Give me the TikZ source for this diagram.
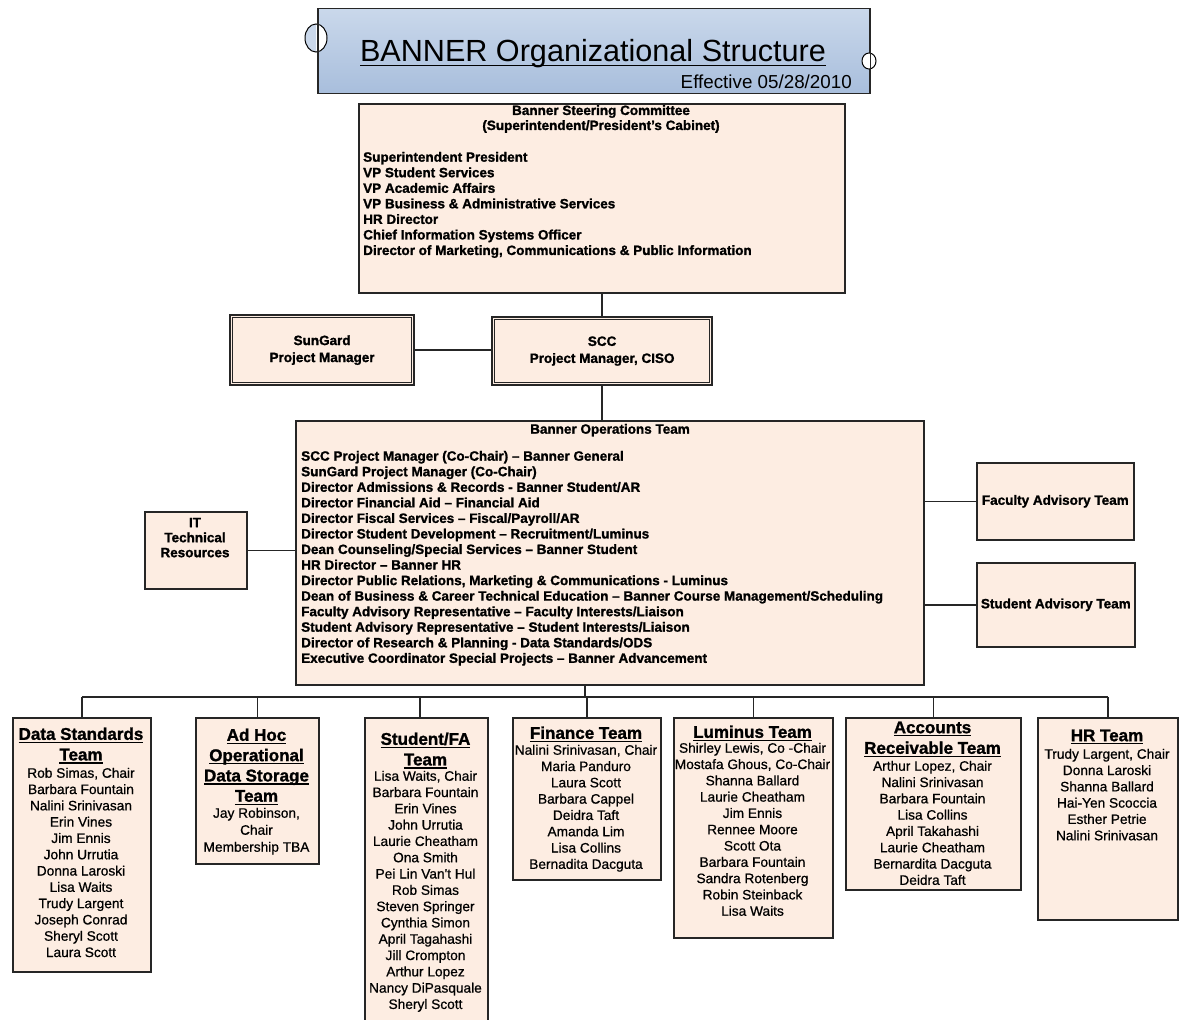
\documentclass[tikz,border=0pt]{standalone}
\usepackage{fontspec}
\setmainfont{Liberation Sans}
\newfontfamily\heavyfont[BoldFeatures={FakeBold=1.3}]{Liberation Sans}
\newfontfamily\memfont[UprightFeatures={FakeBold=0.7}]{Liberation Sans}
\usetikzlibrary{calc}
\definecolor{peach}{RGB}{253,237,226}
\definecolor{tblueA}{RGB}{202,216,235}
\definecolor{tblueB}{RGB}{168,190,220}
\newsavebox\ulbox
\newcommand\ulx[2][3.2pt]{\sbox\ulbox{#2}\rlap{\rule[-#1]{\wd\ulbox}{1.4pt}}\usebox\ulbox}
\newcommand\fhd{\heavyfont\bfseries\fontsize{13.5}{15.55}\selectfont}
\newcommand\fhdb{\heavyfont\bfseries\fontsize{13.5}{15}\selectfont}
\newcommand\fhdc{\heavyfont\bfseries\fontsize{13.5}{17}\selectfont}
\newcommand\fmem{\memfont\fontsize{13.7}{16.3}\selectfont}
\newcommand\fteam{\heavyfont\bfseries\fontsize{17}{20.6}\selectfont}
\begin{document}
\begin{tikzpicture}[x=1pt,y=-1pt,
  box/.style={draw=black!85, line width=1.6pt, fill=peach, rectangle, inner sep=0pt, anchor=north west},
  dbox/.style={box, line width=2.2pt},
  inner/.style={draw=black!85, line width=0.8pt},
  conn/.style={draw=black!85, line width=1.4pt},
  lst/.style={inner sep=0pt, font=\fhd},
  mem/.style={inner sep=0pt, font=\fmem, align=center, anchor=north},
  tt/.style={inner sep=0pt, font=\fteam, align=center, anchor=north}]
\useasboundingbox (0,0) rectangle (1181,1020);
\fill[white] (0,0) rectangle (1181,1020);

% ---------- title ----------
\node[draw=black!85, line width=1.2pt, top color=tblueA, bottom color=tblueB, rectangle, inner sep=0pt,
      minimum width=551pt, minimum height=85pt, anchor=north west] (title) at (318,8) {};
\begin{scope}
  \fill[white] (316,38) ellipse [x radius=11, y radius=14];
  \clip (300,20) rectangle (316,56);
  \fill[tblueA] (316,38) ellipse [x radius=11, y radius=14];
\end{scope}
\draw[line width=1pt] (316,38) ellipse [x radius=11, y radius=14];
\fill[white] (869,61) ellipse [x radius=7, y radius=8];
\draw[line width=1pt] (869,61) ellipse [x radius=7, y radius=8];
\draw[line width=1.2pt, black!85] (title.north west) -- (title.south west);
\draw[line width=1.2pt, black!85] (title.north east) -- (title.south east);
\node[font=\fontsize{30.6}{36}\selectfont, anchor=base, inner sep=0pt] (ttl) at (593,61) {\ulx[5pt]{BANNER Organizational Structure}};
\node[font=\fontsize{18.8}{22}\selectfont, anchor=base east, inner sep=0pt] (eff) at (852,88) {Effective 05/28/2010};

% ---------- steering committee ----------
\node[box, minimum width=486pt, minimum height=189pt] (steer) at (358,103) {};
\node[inner sep=0pt, font=\fhdb, align=center, anchor=north] (steerT) at (601,105) {Banner Steering Committee\\(Superintendent/President’s Cabinet)};
\node[lst, align=left, anchor=north west] (steerL) at (363,151.7) {Superintendent President\\VP Student Services\\VP Academic Affairs\\VP Business \& Administrative Services\\HR Director\\Chief Information Systems Officer\\Director of Marketing, Communications \& Public Information};

% ---------- project managers ----------
\node[dbox, minimum width=184pt, minimum height=70pt, font=\fhdc, align=center] (sg) at (229,314) {SunGard\\Project Manager};
\draw[inner] ($(sg.north west)+(3.5,3.5)$) rectangle ($(sg.south east)+(-3.5,-3.5)$);
\node[dbox, minimum width=220pt, minimum height=68pt, font=\fhdc, align=center] (scc) at (491,316) {SCC\\Project Manager, CISO};
\draw[inner] ($(scc.north west)+(3.5,3.5)$) rectangle ($(scc.south east)+(-3.5,-3.5)$);

% ---------- operations team ----------
\node[box, minimum width=628pt, minimum height=264pt] (ops) at (295,420) {};
\node[lst, anchor=north] (opsT) at (610,423.7) {Banner Operations Team};
\node[lst, align=left, anchor=north west] (opsL) at (301,450.7) {SCC Project Manager (Co-Chair) – Banner General\\SunGard Project Manager (Co-Chair)\\Director Admissions \& Records - Banner Student/AR\\Director Financial Aid – Financial Aid\\Director Fiscal Services – Fiscal/Payroll/AR\\Director Student Development – Recruitment/Luminus\\Dean Counseling/Special Services – Banner Student\\HR Director – Banner HR\\Director Public Relations, Marketing \& Communications - Luminus\\Dean of Business \& Career Technical Education – Banner Course Management/Scheduling\\Faculty Advisory Representative – Faculty Interests/Liaison\\Student Advisory Representative – Student Interests/Liaison\\Director of Research \& Planning - Data Standards/ODS\\Executive Coordinator Special Projects – Banner Advancement};

\node[box, minimum width=102pt, minimum height=77pt] (it) at (144,511) {};
\node[inner sep=0pt, font=\fhdb, align=center, anchor=north] (itT) at (195,517.7) {IT\\Technical\\Resources};

\node[box, minimum width=157pt, minimum height=77pt, font=\fhd] (fac) at (976,462) {Faculty Advisory Team};
\node[box, minimum width=158pt, minimum height=84pt, font=\fhd] (sat) at (976,562) {Student Advisory Team};

% ---------- teams ----------
\node[box, minimum width=138pt, minimum height=254pt] (ds) at (12,717) {};
\node[tt] (dsT) at (81,727.3) {\ulx{Data Standards}\\\ulx{Team}};
\node[mem] (dsM) at (81,767.6) {Rob Simas, Chair\\Barbara Fountain\\Nalini Srinivasan\\Erin Vines\\Jim Ennis\\John Urrutia\\Donna Laroski\\Lisa Waits\\Trudy Largent\\Joseph Conrad\\Sheryl Scott\\Laura Scott};

\node[box, minimum width=123pt, minimum height=146pt] (ah) at (195,717) {};
\node[tt, font=\heavyfont\bfseries\fontsize{17}{20.3}\selectfont] (ahT) at (256.5,728.3) {\ulx{Ad Hoc}\\\ulx{Operational}\\\ulx{Data Storage}\\\ulx{Team}};
\node[mem, font=\memfont\fontsize{13.7}{17}\selectfont] (ahM) at (256.5,807.6) {Jay Robinson,\\Chair\\Membership TBA};

\node[box, minimum width=123pt, minimum height=320pt] (sf) at (364,717) {};
\node[tt] (sfT) at (425.5,732.3) {\ulx{Student/FA}\\\ulx{Team}};
\node[mem] (sfM) at (425.5,770.6) {Lisa Waits, Chair\\Barbara Fountain\\Erin Vines\\John Urrutia\\Laurie Cheatham\\Ona Smith\\Pei Lin Van't Hul\\Rob Simas\\Steven Springer\\Cynthia Simon\\April Tagahashi\\Jill Crompton\\Arthur Lopez\\Nancy DiPasquale\\Sheryl Scott};

\node[box, minimum width=148pt, minimum height=162pt] (fin) at (512,717) {};
\node[tt] (finT) at (586,726.3) {\ulx{Finance Team}};
\node[mem] (finM) at (586,744.6) {Nalini Srinivasan, Chair\\Maria Panduro\\Laura Scott\\Barbara Cappel\\Deidra Taft\\Amanda Lim\\Lisa Collins\\Bernadita Dacguta};

\node[box, minimum width=159pt, minimum height=220pt] (lum) at (673,717) {};
\node[tt] (lumT) at (752.5,725.3) {\ulx{Luminus Team}};
\node[mem] (lumM) at (752.5,742.6) {Shirley Lewis, Co -Chair\\Mostafa Ghous, Co-Chair\\Shanna Ballard\\Laurie Cheatham\\Jim Ennis\\Rennee Moore\\Scott Ota\\Barbara Fountain\\Sandra Rotenberg\\Robin Steinback\\Lisa Waits};

\node[box, minimum width=175pt, minimum height=172pt] (ar) at (845,717) {};
\node[tt] (arT) at (932.5,721.3) {\ulx{Accounts}\\\ulx{Receivable Team}};
\node[mem] (arM) at (932.5,760.6) {Arthur Lopez, Chair\\Nalini Srinivasan\\Barbara Fountain\\Lisa Collins\\April Takahashi\\Laurie Cheatham\\Bernardita Dacguta\\Deidra Taft};

\node[box, minimum width=140pt, minimum height=202pt] (hr) at (1037,717) {};
\node[tt] (hrT) at (1107,729.3) {\ulx{HR Team}};
\node[mem] (hrM) at (1107,748.6) {Trudy Largent, Chair\\Donna Laroski\\Shanna Ballard\\Hai-Yen Scoccia\\Esther Petrie\\Nalini Srinivasan};

% ---------- connectors ----------
\draw[conn] (steer.south) -- (steer.south |- scc.north);
\draw[conn] (sg.east) -- (sg.east -| scc.west);
\draw[conn] (scc.south) -- (scc.south |- ops.north);
\draw[conn] (it.east) -- (it.east -| ops.west);
\draw[conn] (fac.west) -- (fac.west -| ops.east);
\draw[conn] (sat.west) -- (sat.west -| ops.east);
\coordinate (bus) at (585,697);
\draw[conn] (bus |- ops.south) -- (bus);
\draw[conn] (ds.north |- bus) -- (hr.north |- bus);
\foreach \t in {ds,ah,fin,lum,ar,hr} \draw[conn] (\t.north |- bus) -- (\t.north);
\coordinate (sfdrop) at (420,697);
\draw[conn] (sfdrop) -- (sfdrop |- sf.north);
\end{tikzpicture}
\end{document}
